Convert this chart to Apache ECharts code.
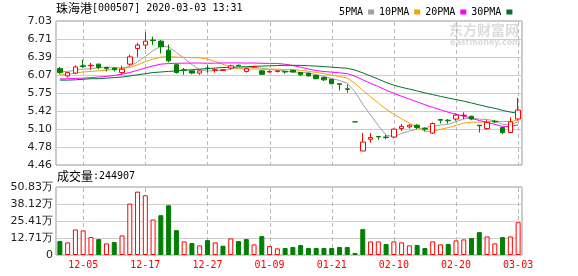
<!DOCTYPE html>
<html><head><meta charset="utf-8">
<script src="https://cdn.jsdelivr.net/npm/echarts@6/dist/echarts.min.js"></script>
<style>html,body{margin:0;padding:0;background:#fff}#c{width:578px;height:276px}</style>
</head><body><div id="c"></div>
<script>
const dates = ['12-02','12-03','12-04','12-05','12-06','12-09','12-10','12-11','12-12','12-13','12-16','12-17','12-18','12-19','12-20','12-23','12-24','12-25','12-26','12-27','12-30','12-31','01-02','01-03','01-06','01-07','01-08','01-09','01-10','01-13','01-14','01-15','01-16','01-17','01-20','01-21','01-22','01-23','02-03','02-04','02-05','02-06','02-07','02-10','02-11','02-12','02-13','02-14','02-17','02-18','02-19','02-20','02-21','02-24','02-25','02-26','02-27','02-28','03-02','03-03'];
const opens  = [6.18,6.05,6.10,6.23,6.23,6.26,6.20,6.19,6.11,6.26,6.54,6.60,6.69,6.67,6.51,6.25,6.16,6.14,6.10,6.19,6.15,6.15,6.19,6.24,6.13,6.21,6.14,6.12,6.13,6.13,6.15,6.11,6.10,6.06,6.02,5.99,5.91,5.82,5.23,4.71,4.92,4.97,4.96,4.96,5.11,5.14,5.17,5.11,5.03,5.27,5.26,5.28,5.34,5.33,5.17,5.11,5.24,5.13,5.04,5.28];
const closes = [6.11,6.11,6.21,6.22,6.24,6.20,6.18,6.16,6.17,6.39,6.60,6.67,6.68,6.57,6.32,6.11,6.15,6.10,6.14,6.18,6.16,6.16,6.23,6.23,6.18,6.22,6.08,6.13,6.14,6.12,6.12,6.07,6.05,6.00,5.98,5.91,5.90,5.81,5.23,4.87,4.95,4.96,4.95,5.10,5.15,5.17,5.13,5.10,5.20,5.26,5.25,5.35,5.35,5.28,5.16,5.22,5.23,5.04,5.23,5.44];
const lows   = [6.08,6.02,6.08,6.19,6.16,6.17,6.13,6.13,6.07,6.23,6.39,6.53,6.60,6.45,6.29,6.09,6.07,6.08,6.07,6.11,6.11,6.14,6.16,6.23,6.11,6.20,6.07,6.11,6.11,6.09,6.11,6.05,6.04,5.99,5.96,5.90,5.79,5.75,5.23,4.71,4.86,4.91,4.92,4.94,5.07,5.11,5.10,5.06,5.01,5.20,5.20,5.25,5.28,5.26,5.04,5.09,5.21,5.01,5.04,5.26];
const highs  = [6.21,6.12,6.24,6.34,6.28,6.27,6.21,6.20,6.23,6.43,6.64,6.83,6.75,6.69,6.61,6.27,6.19,6.14,6.15,6.24,6.19,6.17,6.25,6.25,6.20,6.23,6.15,6.15,6.14,6.13,6.16,6.12,6.10,6.07,6.04,5.99,5.91,5.90,5.23,5.03,5.03,4.97,5.00,5.11,5.19,5.19,5.19,5.13,5.22,5.28,5.28,5.38,5.40,5.34,5.17,5.26,5.26,5.13,5.31,5.66];
// volume in 万 (10k)
const volumes = [10.41,9.42,19.09,18.35,13.39,11.90,8.68,9.67,14.63,38.43,47.36,44.63,26.53,29.75,37.19,18.60,10.17,8.93,7.19,11.16,9.42,6.94,12.40,10.41,11.90,7.93,14.13,6.69,4.96,5.21,5.95,7.44,5.21,5.21,5.21,5.21,5.95,5.95,1.49,19.34,10.17,10.17,8.18,10.17,9.42,7.19,7.44,5.21,10.17,7.93,8.18,10.91,11.65,12.65,17.11,13.89,8.68,13.39,13.89,24.49];
// 1 = close above previous close (red), 0 = below (green)
const volUp = [0,1,1,1,1,0,1,0,1,1,1,1,1,0,0,0,1,0,1,0,1,0,1,0,0,1,0,1,1,0,0,0,0,0,0,0,0,0,0,0,1,1,0,1,1,1,0,0,1,1,0,1,1,0,0,1,1,0,1,1];
const ma5  = [6.12,6.13,6.15,6.17,6.178,6.196,6.21,6.20,6.19,6.22,6.30,6.398,6.502,6.582,6.568,6.47,6.366,6.25,6.164,6.136,6.146,6.148,6.174,6.192,6.192,6.204,6.188,6.168,6.15,6.138,6.118,6.116,6.10,6.072,6.044,6.002,5.968,5.92,5.766,5.544,5.352,5.164,4.992,4.966,5.022,5.066,5.10,5.13,5.15,5.172,5.188,5.232,5.282,5.298,5.278,5.272,5.248,5.186,5.176,5.232];
const ma10 = [6.07,6.08,6.10,6.12,6.13,6.14,6.15,6.17,6.18,6.199,6.248,6.304,6.351,6.386,6.394,6.385,6.382,6.376,6.373,6.352,6.308,6.257,6.212,6.178,6.164,6.175,6.168,6.171,6.171,6.165,6.161,6.152,6.134,6.111,6.091,6.06,6.042,6.01,5.919,5.794,5.677,5.566,5.456,5.366,5.283,5.209,5.132,5.061,5.058,5.097,5.127,5.166,5.206,5.224,5.225,5.23,5.24,5.234,5.237,5.255];
const ma20 = [5.995,6.00,6.005,6.01,6.02,6.03,6.04,6.06,6.08,6.11,6.15,6.19,6.23,6.26,6.27,6.275,6.278,6.28,6.28,6.276,6.278,6.281,6.282,6.282,6.279,6.28,6.275,6.274,6.272,6.259,6.235,6.205,6.173,6.145,6.128,6.118,6.105,6.091,6.045,5.98,5.919,5.859,5.795,5.739,5.687,5.635,5.587,5.536,5.489,5.446,5.402,5.366,5.331,5.295,5.254,5.22,5.186,5.148,5.148,5.176];
const ma30 = [5.975,5.975,5.98,5.99,6.00,6.00,6.01,6.02,6.03,6.05,6.07,6.09,6.11,6.12,6.13,6.14,6.15,6.16,6.17,6.18,6.19,6.20,6.205,6.21,6.215,6.22,6.225,6.23,6.235,6.239,6.239,6.238,6.232,6.225,6.216,6.207,6.197,6.186,6.154,6.104,6.049,5.992,5.934,5.885,5.846,5.815,5.781,5.747,5.716,5.685,5.655,5.628,5.599,5.567,5.533,5.50,5.471,5.435,5.405,5.382];
const priceTicks = ['4.46','4.78','5.10','5.42','5.75','6.07','6.39','6.71','7.03'];
const volTicks = ['0','12.71万','25.41万','38.12万','50.83万'];
const priceMin = 4.46, priceMax = 7.03;
const volMax = 50.83;
const title = '珠海港';
const titleCode = '[000507] 2020-03-03 13:31';
const volLabel = '成交量';
const volNow = ':244907';

const RED = '#ff0000', GREEN = '#008000';
const showLabel = (i) => i % 8 === 3;
const labelIdx = dates.map((d, i) => i).filter(showLabel);

// dashed vertical guide lines at labelled dates, placed through the axes' own scales
const guideSeries = (xi, yi, yLo, yHi) => ({
  type: 'custom', xAxisIndex: xi, yAxisIndex: yi, silent: true, z: 5, clip: false,
  data: labelIdx.map(i => [i, yLo]), encode: { x: 0, y: 1 },
  renderItem: (params, api) => {
    const p0 = api.coord([api.value(0), yLo]);
    const p1 = api.coord([api.value(0), yHi]);
    const x = Math.round(p0[0]) + 0.5;
    const segs = [];
    for (let y = p1[1] + 1; y < p0[1] - 1; y += 7) {
      segs.push({ type: 'rect', shape: { x: x - 0.5, y: y, width: 1, height: Math.min(4, p0[1] - y) },
        style: { fill: '#b8b8b8' } });
    }
    return { type: 'group', children: segs };
  }
});

const chart = echarts.init(document.getElementById('c'));
const candleData = dates.map((d, i) => [opens[i], closes[i], lows[i], highs[i]]);
const volData = volumes.map((v, i) => ({ value: v, itemStyle: volUp[i]
  ? { color: '#ffffff', borderColor: RED, borderWidth: 1 }
  : { color: GREEN, borderColor: GREEN, borderWidth: 1 } }));
const mono = 'DejaVu Sans Mono';
const lbl = { fontFamily: 'DejaVu Sans', fontSize: 11, color: '#222' };
const maLine = (name, data, color) => ({ name, type: 'line', data, xAxisIndex: 0, yAxisIndex: 0,
  symbol: 'none', smooth: false, lineStyle: { width: 1, color }, itemStyle: { color }, z: 6 });

chart.setOption({
  animation: false,
  grid: [
    { left: 56, top: 21, width: 466, height: 144, show: true, borderColor: '#999', borderWidth: 1 },
    { left: 56, top: 187, width: 466, height: 68, show: true, borderColor: '#999', borderWidth: 1 }
  ],
  legend: { left: 334, top: 2, align: 'right', icon: 'rect', itemWidth: 6, itemHeight: 5, itemGap: 5,
    textStyle: { fontFamily: mono, fontSize: 10, color: '#000' },
    data: ['5PMA', '10PMA', '20PMA', '30PMA'] },
  graphic: [
    { type: 'text', left: 56, top: 2, style: { text: '{a|' + title + '}{b|' + titleCode + '}',
      rich: { a: { fontFamily: 'Noto Sans CJK SC', fontSize: 12, fill: '#000' },
              b: { fontFamily: mono, fontSize: 10, fill: '#000' } } } },
    { type: 'text', left: 57, top: 170, style: { text: '{a|' + volLabel + '}{b|' + volNow + '}',
      rich: { a: { fontFamily: 'Noto Sans CJK SC', fontSize: 12, fill: '#000' },
              b: { fontFamily: mono, fontSize: 10, fill: '#000' } } } },
    { type: 'text', left: 449, top: 23, z: -10, style: { text: '东方财富网', fontFamily: 'Noto Sans CJK SC',
      fontSize: 14, fontWeight: 'bold', fill: '#dcdcdc' } },
    { type: 'text', left: 450, top: 39, z: -10, style: { text: 'eastmoney.com', fontFamily: 'DejaVu Sans',
      fontSize: 8, fontWeight: 'bold', fill: '#dcdcdc' } }
  ],
  xAxis: [
    { type: 'category', gridIndex: 0, data: dates, boundaryGap: true,
      axisLine: { show: false }, axisTick: { show: false }, axisLabel: { show: false }, splitLine: { show: false } },
    { type: 'category', gridIndex: 1, data: dates, boundaryGap: true,
      axisLine: { show: false }, axisTick: { show: false }, splitLine: { show: false },
      axisLabel: { interval: (i) => showLabel(i), color: RED, fontFamily: mono, fontSize: 10, margin: 5 } }
  ],
  yAxis: [
    { type: 'value', gridIndex: 0, min: priceMin, max: priceMax, show: false, splitLine: { show: false } },
    { type: 'value', gridIndex: 0, min: 0, max: priceTicks.length - 1, interval: 1, position: 'left',
      axisLine: { show: false }, axisTick: { show: false },
      axisLabel: Object.assign({ margin: 4, formatter: (v) => priceTicks[Math.round(v)] }, lbl),
      splitLine: { lineStyle: { color: '#cccccc', width: 1 } } },
    { type: 'value', gridIndex: 1, min: 0, max: volMax, interval: volMax / (volTicks.length - 1),
      axisLine: { show: false }, axisTick: { show: false },
      axisLabel: Object.assign({ margin: 3, formatter: (v) => volTicks[Math.round(v / (volMax / (volTicks.length - 1)))] }, lbl),
      splitLine: { lineStyle: { color: '#cccccc', width: 1 } } }
  ],
  series: [
    guideSeries(0, 0, priceMin, priceMax),
    guideSeries(1, 2, 0, volMax),
    { type: 'candlestick', name: 'K', xAxisIndex: 0, yAxisIndex: 0, data: candleData, barWidth: 5,
      itemStyle: { color: '#ffffff', color0: GREEN, borderColor: RED, borderColor0: GREEN,
        borderColorDoji: GREEN, borderWidth: 1 }, z: 7 },
    maLine('5PMA', ma5, '#a0a0a0'),
    maLine('10PMA', ma10, '#f5a200'),
    maLine('20PMA', ma20, '#ff00ff'),
    maLine('30PMA', ma30, '#00702e'),
    { type: 'bar', name: 'VOL', xAxisIndex: 1, yAxisIndex: 2, data: volData, barWidth: 5, z: 7 }
  ]
});
</script></body></html>
